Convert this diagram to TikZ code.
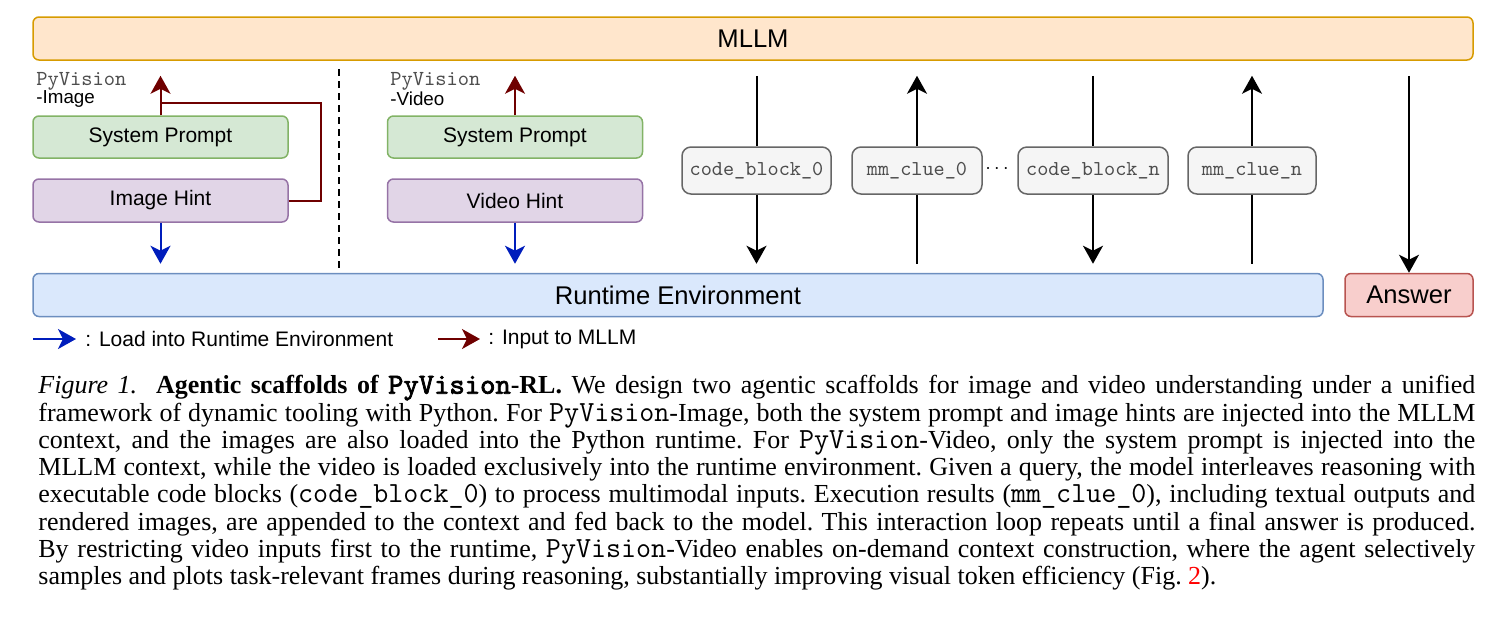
\documentclass[tikz,border=0pt]{standalone}
\usepackage{fontspec}
\setmainfont{Liberation Sans}
\newfontfamily\capfont{Liberation Serif}
\newfontfamily\boldtt[FakeBold=2.5]{lmmono10-regular.otf}
\usetikzlibrary{arrows.meta,positioning}

\definecolor{mllmfill}{HTML}{FFE6CC}
\definecolor{mllmline}{HTML}{D79B00}
\definecolor{envfill}{HTML}{DAE8FC}
\definecolor{envline}{HTML}{6C8EBF}
\definecolor{ansfill}{HTML}{F8CECC}
\definecolor{ansline}{HTML}{B85450}
\definecolor{sysfill}{HTML}{D5E8D4}
\definecolor{sysline}{HTML}{82B366}
\definecolor{hintfill}{HTML}{E1D5E7}
\definecolor{hintline}{HTML}{9673A6}
\definecolor{codefill}{HTML}{F5F5F5}
\definecolor{codeline}{HTML}{666666}
\definecolor{codetext}{HTML}{4D4D4D}
\definecolor{loadblue}{HTML}{001DBC}
\definecolor{inputred}{HTML}{6F0000}

\newcommand{\captt}[1]{{\ttfamily\fontsize{14.6}{13.65}\selectfont #1}}

\tikzset{
  box/.style={draw, line width=0.75pt, rounded corners=3pt, inner sep=0pt,
    font=\fontsize{10.5}{12}\selectfont},
  bigbox/.style={box, minimum height=21.5pt, font=\fontsize{12.8}{14}\selectfont},
  sysbox/.style={box, fill=sysfill, draw=sysline, minimum width=127.5pt, minimum height=21pt},
  hintbox/.style={box, fill=hintfill, draw=hintline, minimum width=127.5pt, minimum height=21.5pt},
  codebox/.style={box, rounded corners=4.5pt, fill=codefill, draw=codeline, text=codetext,
    minimum height=23.5pt, font=\ttfamily\fontsize{10.6}{12}\selectfont},
  arr/.style={->, line width=1pt},
  scaffold/.style={anchor=north west, inner sep=0pt, align=left, font=\fontsize{9.4}{9}\selectfont}
}

\begin{document}
\begin{tikzpicture}[x=0.5pt, y=-0.5pt, >={Stealth[length=9pt,width=10pt,inset=2.5pt]}]
  \useasboundingbox (0,0) rectangle (1496,634);

  % 1. model, runtime and answer
  \node[bigbox, fill=mllmfill, draw=mllmline, minimum width=720pt] (mllm) at (753,38.5) {MLLM};
  \node[bigbox, fill=envfill, draw=envline, minimum width=645pt] (env) at (678,295) {Runtime Environment};
  \node[bigbox, fill=ansfill, draw=ansline, minimum width=64pt] (ans) at (1409,295) {Answer};
  \coordinate (top) at ([yshift=-7.5pt]mllm.south);
  \coordinate (bot) at ([yshift=4.5pt]env.north);

  % 2. PyVision-Image
  \node[scaffold] (labimg) at (36,72) {{\ttfamily\fontsize{10.7}{9}\selectfont\color{codetext}PyVision}\\-Image};
  \node[sysbox] (sysimg) at (160.5,137) {System Prompt};
  \node[hintbox] (hintimg) at (160.5,200.5) {Image Hint};
  \coordinate (joinimg) at ([yshift=6pt]sysimg.north);
  \draw[arr, inputred] (sysimg) -- (top -| sysimg);
  \draw[line width=1pt, inputred] (hintimg.east) -- ++(16pt,0) |- (joinimg);
  \draw[arr, loadblue] (hintimg) -- (bot -| hintimg);

  % 3. separator
  \coordinate (sepa) at (339,69);
  \coordinate (sepb) at (339,268);
  \draw[line width=0.9pt, dash pattern=on 3.5pt off 2.5pt] (sepa) -- (sepb);

  % 4. PyVision-Video
  \node[scaffold] (labvid) at (390,72) {{\ttfamily\fontsize{10.7}{9}\selectfont\color{codetext}PyVision}\\-Video};
  \node[sysbox] (sysvid) at (515,137) {System Prompt};
  \node[hintbox] (hintvid) at (515,200.5) {Video Hint};
  \draw[arr, inputred] (sysvid) -- (top -| sysvid);
  \draw[arr, loadblue] (hintvid) -- (bot -| hintvid);

  % 5. interleaved code blocks and clues
  \node[codebox, minimum width=74.5pt] (cb0) at (756.5,170.5) {code\_block\_0};
  \node[codebox, minimum width=65pt] (mm0) at (917,170.5) {mm\_clue\_0};
  \node[inner sep=0pt] (dots) at (997,169) {$\cdots$};
  \node[codebox, minimum width=75pt] (cbn) at (1093,170.5) {code\_block\_n};
  \node[codebox, minimum width=64pt] (mmn) at (1252,170.5) {mm\_clue\_n};

  \draw[line width=1pt] (top -| cb0) -- (cb0);
  \draw[arr] (cb0) -- (bot -| cb0);
  \draw[line width=1pt] (bot -| mm0) -- (mm0);
  \draw[arr] (mm0) -- (top -| mm0);
  \draw[line width=1pt] (top -| cbn) -- (cbn);
  \draw[arr] (cbn) -- (bot -| cbn);
  \draw[line width=1pt] (bot -| mmn) -- (mmn);
  \draw[arr] (mmn) -- (top -| mmn);
  \draw[arr] (top -| ans) -- (ans);

  % 6. legend
  \node[anchor=west, inner sep=0pt, font=\fontsize{10.5}{12}\selectfont] (lgload) at (85,339) {: Load into Runtime Environment};
  \node[anchor=west, inner sep=0pt, font=\fontsize{10.5}{12}\selectfont] (lginput) at (488,339) {: Input to MLLM};
  \coordinate (lgloadtail) at ([xshift=-26pt]lgload.west);
  \coordinate (lginputtail) at ([xshift=-25pt]lginput.west);
  \draw[arr, loadblue, shorten >=4.5pt] (lgloadtail) -- (lgload);
  \draw[arr, inputred, shorten >=4pt] (lginputtail) -- (lginput);

  % 7. caption
  \node[anchor=north west, inner sep=0pt, text width=718.5pt, align=justify,
    font=\capfont\fontsize{13}{13.65}\selectfont\frenchspacing] (caption) at (38,375) {%
    \textit{Figure 1.}\ \ \textbf{Agentic scaffolds of {\boldtt\fontsize{14.6}{13.65}\selectfont PyVision}-RL.} We design two agentic scaffolds for image and video understanding under a unified\linebreak
    framework of dynamic tooling with Python. For \captt{PyVision}-Image, both the system prompt and image hints are injected into the MLLM\linebreak
    context, and the images are also loaded into the Python runtime. For \captt{PyVision}-Video, only the system prompt is injected into the\linebreak
    MLLM context, while the video is loaded exclusively into the runtime environment. Given a query, the model interleaves reasoning with\linebreak
    executable code blocks (\captt{code\_block\_0}) to process multimodal inputs. Execution results (\captt{mm\_clue\_0}), including textual outputs and\linebreak
    rendered images, are appended to the context and fed back to the model. This interaction loop repeats until a final answer is produced.\linebreak
    By restricting video inputs first to the runtime, \captt{PyVision}-Video enables on-demand context construction, where the agent selectively\linebreak
    samples and plots task-relevant frames during reasoning, substantially improving visual token efficiency (Fig.~\textcolor{red}{2}).};
\end{tikzpicture}
\end{document}
